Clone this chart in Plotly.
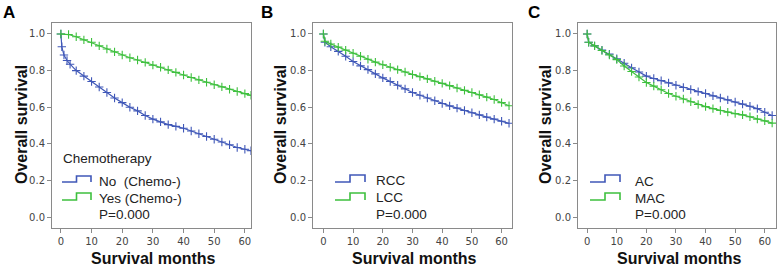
import plotly.graph_objects as go

# ---------------- data ----------------
a_no_months = [0, 0.3, 1, 2, 3, 5, 7.5, 10, 12.5, 15, 17.5, 20, 22.5, 25, 27.5, 30, 32.5, 35,
               37.5, 40, 42.5, 45, 47.5, 50, 52.5, 55, 57.5, 60, 62]
a_no_surv = [1.0, 0.93, 0.885, 0.855, 0.835, 0.80, 0.77, 0.74, 0.71, 0.68, 0.65, 0.625, 0.60,
             0.58, 0.555, 0.535, 0.52, 0.505, 0.495, 0.485, 0.47, 0.455, 0.44, 0.425, 0.41,
             0.395, 0.38, 0.37, 0.362]
a_yes_months = [0, 2.5, 5, 7.5, 10, 12.5, 15, 17.5, 20, 22.5, 25, 27.5, 30, 32.5, 35, 37.5,
                40, 42.5, 45, 47.5, 50, 52.5, 55, 57.5, 60, 62]
a_yes_surv = [1.0, 0.997, 0.985, 0.968, 0.955, 0.935, 0.918, 0.902, 0.885, 0.87, 0.858, 0.845,
              0.83, 0.818, 0.804, 0.79, 0.776, 0.762, 0.749, 0.736, 0.723, 0.711, 0.698, 0.686,
              0.674, 0.665]

bc_months = [0, 0.5, 2.5, 5, 7.5, 10, 12.5, 15, 17.5, 20, 22.5, 25, 27.5, 30, 32.5, 35, 37.5,
             40, 42.5, 45, 47.5, 50, 52.5, 55, 57.5, 60, 62.5]
b_rcc_surv = [1.0, 0.955, 0.93, 0.905, 0.878, 0.85, 0.826, 0.805, 0.782, 0.76, 0.74, 0.72, 0.70,
              0.68, 0.665, 0.65, 0.635, 0.62, 0.607, 0.595, 0.582, 0.57, 0.558, 0.546, 0.535,
              0.523, 0.512]
b_lcc_surv = [1.0, 0.96, 0.945, 0.928, 0.912, 0.895, 0.878, 0.862, 0.846, 0.832, 0.818, 0.805,
              0.792, 0.779, 0.767, 0.755, 0.742, 0.73, 0.718, 0.705, 0.692, 0.68, 0.668, 0.655,
              0.642, 0.625, 0.608]
c_ac_surv = [1.0, 0.955, 0.935, 0.912, 0.89, 0.865, 0.84, 0.815, 0.792, 0.77, 0.757, 0.745,
             0.733, 0.72, 0.708, 0.697, 0.685, 0.675, 0.662, 0.65, 0.64, 0.628, 0.617, 0.605,
             0.592, 0.572, 0.555]
c_mac_surv = [1.0, 0.955, 0.935, 0.91, 0.885, 0.86, 0.825, 0.795, 0.765, 0.735, 0.715, 0.695,
              0.675, 0.66, 0.645, 0.63, 0.615, 0.603, 0.592, 0.582, 0.573, 0.565, 0.558, 0.548,
              0.535, 0.525, 0.513]

x_ticks = [0, 10, 20, 30, 40, 50, 60]
y_ticks = [0.0, 0.2, 0.4, 0.6, 0.8, 1.0]
panel_labels = ["A", "B", "C"]
legend_a = ["No  (Chemo-)", "Yes (Chemo-)"]
legend_b = ["RCC", "LCC"]
legend_c = ["AC", "MAC"]
legend_title_a = "Chemotherapy"
p_text = "P=0.000"
x_title = "Survival months"
y_title = "Overall survival"

# ---------------- styling ----------------
W, H = 777, 266
BLUE = "#4058B8"
GREEN = "#3EC03E"
BOX = "#8a8a8a"
FONT = "Liberation Sans, Arial, sans-serif"
TICKFONT = "DejaVu Sans, Verdana, sans-serif"

def px(x):
    return x / W

def py(y):
    return 1 - y / H

panels = [
    dict(box=(52, 251), xr=[-2.9, 62.0], ytitle_x=21, letter_x=1,
         series=[(a_no_months, a_no_surv, BLUE), (a_yes_months, a_yes_surv, GREEN)]),
    dict(box=(313, 512), xr=[-3.5, 63.5], ytitle_x=280, letter_x=259,
         series=[(bc_months, b_rcc_surv, BLUE), (bc_months, b_lcc_surv, GREEN)]),
    dict(box=(578, 776), xr=[-3.1, 63.8], ytitle_x=545, letter_x=526,
         series=[(bc_months, c_ac_surv, BLUE), (bc_months, c_mac_surv, GREEN)]),
]
box_top, box_bot = 23, 228

fig = go.Figure()
layout = dict(
    width=W, height=H, margin=dict(l=0, r=0, t=0, b=0, autoexpand=False),
    paper_bgcolor="white", plot_bgcolor="white", showlegend=False,
    font=dict(family=FONT, color="#222"),
)
annotations = []
shapes = []

for i, p in enumerate(panels):
    n = "" if i == 0 else str(i + 1)
    xa, ya = "xaxis" + n, "yaxis" + n
    for t, s, col in p["series"]:
        fig.add_trace(go.Scatter(
            x=t, y=s, mode="lines+markers", xaxis="x" + n, yaxis="y" + n,
            line=dict(color=col, width=1.2, shape="linear"),
            marker=dict(symbol="cross-thin", size=6, line=dict(color=col, width=1.1), color=col),
            cliponaxis=True, hoverinfo="skip"))
    l, r = p["box"]
    layout[xa] = dict(domain=[px(l), px(r)], range=p["xr"], anchor="y" + n,
                      tickvals=x_ticks, ticks="outside", ticklen=4, tickcolor=BOX,
                      showline=True, mirror=True, linecolor=BOX, linewidth=1,
                      showgrid=False, zeroline=False, automargin=False,
                      tickfont=dict(family=TICKFONT, size=10, color="#444"))
    layout[ya] = dict(domain=[py(box_bot), py(box_top)], range=[-0.06, 1.06], anchor="x" + n,
                      tickvals=y_ticks, tickformat=".1f", ticks="outside", ticklen=4,
                      tickcolor=BOX, showline=True, mirror=True, linecolor=BOX, linewidth=1,
                      showgrid=False, zeroline=False, automargin=False,
                      tickfont=dict(family=TICKFONT, size=10, color="#444"))
    annotations.append(dict(text="<b>%s</b>" % panel_labels[i], xref="paper", yref="paper",
                            x=px(p["letter_x"]), y=py(1), xanchor="left", yanchor="top",
                            showarrow=False, font=dict(family=FONT, size=17, color="#000")))
    annotations.append(dict(text="<b>%s</b>" % x_title, xref="paper", yref="paper",
                            x=px((l + r) / 2 + 2), y=py(258), xanchor="center", yanchor="middle",
                            showarrow=False, font=dict(family=FONT, size=16, color="#111")))
    annotations.append(dict(text="<b>%s</b>" % y_title, xref="paper", yref="paper",
                            x=px(p["ytitle_x"]), y=py(125), xanchor="center", yanchor="middle",
                            textangle=-90, showarrow=False,
                            font=dict(family=FONT, size=16, color="#111")))

# legends (glyph positions in pixels)
def step_glyph(x0, x1, ybot, ytop, col):
    xm = (x0 + x1) / 2
    path = "M %f %f L %f %f L %f %f L %f %f L %f %f" % (
        px(x0), py(ybot), px(xm), py(ybot), px(xm), py(ytop), px(x1), py(ytop), px(x1), py(ybot))
    shapes.append(dict(type="path", path=path, xref="paper", yref="paper",
                       line=dict(color=col, width=1.6)))

def text(x, y, s, size=13.5):
    annotations.append(dict(text=s, xref="paper", yref="paper", x=px(x), y=py(y),
                            xanchor="left", yanchor="middle", showarrow=False,
                            font=dict(family=FONT, size=size, color="#222")))

# A
text(61, 158, legend_title_a)
step_glyph(62, 91, 182, 176, BLUE)
step_glyph(62, 91, 200, 193, GREEN)
text(97, 181, legend_a[0])
text(97, 198, legend_a[1])
text(97, 214, p_text)
# B
step_glyph(335, 365, 182, 175, BLUE)
step_glyph(335, 365, 200, 193, GREEN)
text(374, 180, legend_b[0])
text(374, 197, legend_b[1])
text(374, 214, p_text)
# C
step_glyph(590, 620, 182, 175, BLUE)
step_glyph(590, 620, 200, 193, GREEN)
text(633, 181, legend_c[0])
text(633, 198, legend_c[1])
text(633, 214, p_text)

layout["annotations"] = annotations
layout["shapes"] = shapes
fig.update_layout(**layout)
fig.write_html("out.html", config={"displayModeBar": False},
               post_script="document.body.style.margin='0';document.body.style.overflow='hidden';")
